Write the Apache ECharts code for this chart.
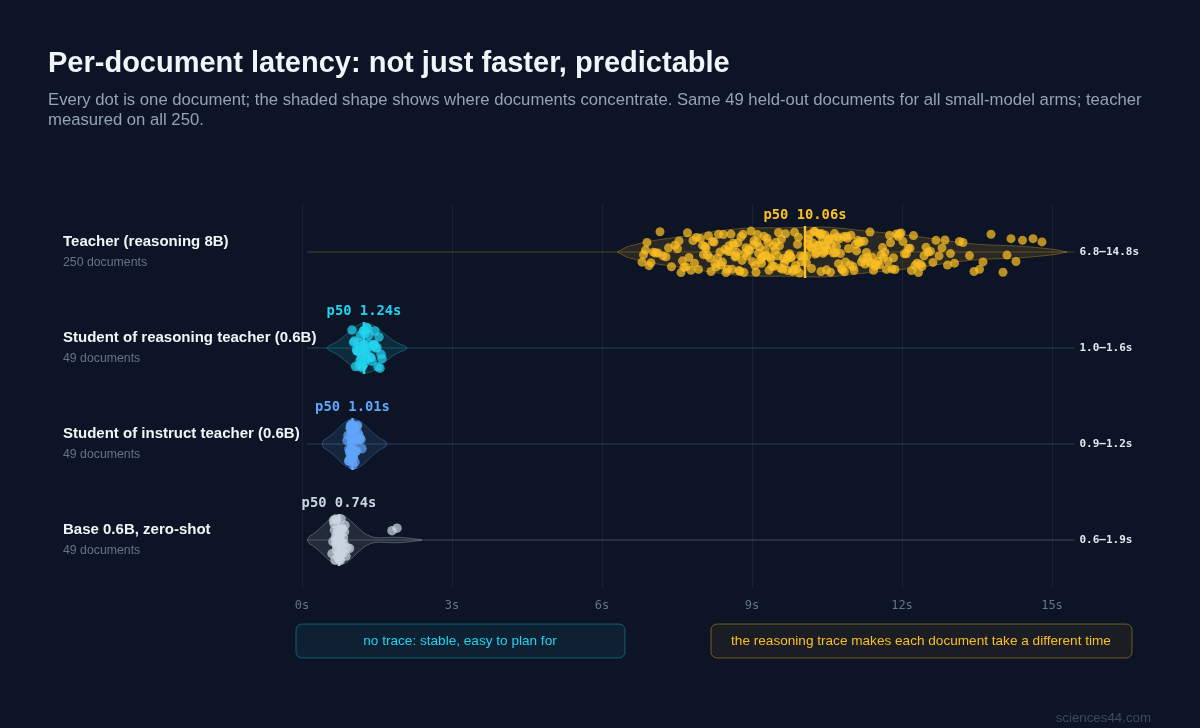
<!DOCTYPE html>
<html lang="en">
  <head>
    <meta charset="UTF-8" />
    <meta name="viewport" content="width=device-width, initial-scale=1.0" />
    <title>Per-document latency</title>
    <script src="https://cdn.jsdelivr.net/npm/echarts@6/dist/echarts.min.js"></script>
    <style>
      html, body { margin: 0; background: #0c1425; }
    </style>
  </head>

  <body>
    <div id="main" style="width: 1200px; height: 728px"></div>

    <script type="text/javascript">
      // rows, top to bottom
      const rowNames = [
        "Teacher (reasoning 8B)",
        "Student of reasoning teacher (0.6B)",
        "Student of instruct teacher (0.6B)",
        "Base 0.6B, zero-shot",
      ];
      const rowDocs = [250, 49, 49, 49];
      const rowColors = ["#fbbf24", "#22d3ee", "#60a5fa", "#cbd5e1"];
      const medians = [10.06, 1.24, 1.01, 0.74];
      const bandwidths = [0.4, 0.25, 0.25, 0.25];
      const xTicks = [0, 3, 6, 9, 12, 15];

      // seconds per document
      const teacher = [
        6.80, 6.83, 6.87, 6.90, 6.94, 6.98,
        7.03, 7.07, 7.12, 7.16, 7.22, 7.28, 7.33, 7.39, 7.46,
        7.51, 7.54, 7.58, 7.61, 7.64, 7.68, 7.71, 7.74, 7.78, 7.82, 7.85, 7.89, 7.93, 7.97,
        8.01, 8.03, 8.06, 8.08, 8.11, 8.13, 8.16, 8.18, 8.21, 8.24, 8.26, 8.28, 8.31, 8.33, 8.36, 8.38, 8.41, 8.43, 8.46, 8.48,
        8.51, 8.52, 8.54, 8.56, 8.58, 8.60, 8.62, 8.64, 8.66, 8.68, 8.70, 8.72, 8.74, 8.76, 8.78, 8.80, 8.82, 8.84, 8.86, 8.88, 8.90, 8.93, 8.95, 8.98,
        9.01, 9.03, 9.04, 9.06, 9.08, 9.10, 9.11, 9.13, 9.15, 9.17, 9.19, 9.20, 9.22, 9.24, 9.26, 9.28, 9.30, 9.32, 9.34, 9.36, 9.38, 9.40, 9.42, 9.44, 9.46, 9.48,
        9.51, 9.53, 9.55, 9.57, 9.59, 9.61, 9.63, 9.65, 9.67, 9.69, 9.71, 9.73, 9.75, 9.77, 9.79, 9.81, 9.83, 9.85, 9.87, 9.89, 9.91, 9.93, 9.95, 9.97, 9.99,
        10.03, 10.09, 10.10, 10.12, 10.13, 10.15, 10.17, 10.19, 10.20, 10.22, 10.24, 10.26, 10.27, 10.29, 10.31, 10.33, 10.34, 10.36, 10.38, 10.39, 10.41, 10.42, 10.44, 10.45, 10.46, 10.48, 10.49,
        10.51, 10.53, 10.55, 10.57, 10.59, 10.61, 10.63, 10.65, 10.67, 10.69, 10.71, 10.73, 10.75, 10.77, 10.79, 10.81, 10.83, 10.85, 10.87, 10.89, 10.91, 10.93, 10.96, 10.98,
        11.02, 11.04, 11.07, 11.09, 11.12, 11.14, 11.17, 11.19, 11.22, 11.24, 11.26, 11.29, 11.31, 11.34, 11.36, 11.39, 11.41, 11.43, 11.46, 11.48,
        11.52, 11.55, 11.58, 11.61, 11.63, 11.66, 11.69, 11.72, 11.75, 11.77, 11.80, 11.83, 11.86, 11.89, 11.92, 11.95, 11.98,
        12.02, 12.05, 12.09, 12.12, 12.16, 12.19, 12.23, 12.26, 12.30, 12.33, 12.37, 12.40, 12.44, 12.48,
        12.52, 12.57, 12.62, 12.68, 12.74, 12.80, 12.86, 12.91, 12.97,
        13.05, 13.15, 13.22, 13.35, 13.44,
        13.55, 13.62, 13.78,
        14.02, 14.10, 14.18, 14.28, 14.41,
        14.62, 14.80,
      ];
      const studentReasoning = [
        1.00, 1.03, 1.05, 1.07, 1.09, 1.10, 1.11, 1.12, 1.13, 1.14,
        1.15, 1.16, 1.17, 1.18, 1.19, 1.20, 1.20, 1.21, 1.22, 1.22,
        1.23, 1.23, 1.24, 1.24, 1.24, 1.25, 1.26, 1.27, 1.28, 1.29,
        1.30, 1.31, 1.33, 1.34, 1.36, 1.38, 1.40, 1.41, 1.42, 1.44,
        1.45, 1.46, 1.48, 1.50, 1.52, 1.54, 1.56, 1.58, 1.60,
      ];
      const studentInstruct = [
        0.90, 0.92, 0.93, 0.94, 0.95, 0.95, 0.96, 0.96, 0.97, 0.97,
        0.97, 0.98, 0.98, 0.98, 0.99, 0.99, 0.99, 1.00, 1.00, 1.00,
        1.00, 1.01, 1.01, 1.01, 1.01, 1.02, 1.02, 1.02, 1.03, 1.03,
        1.03, 1.04, 1.04, 1.05, 1.05, 1.06, 1.06, 1.07, 1.07, 1.08,
        1.09, 1.10, 1.11, 1.12, 1.13, 1.14, 1.16, 1.18, 1.20,
      ];
      const baseModel = [
        0.60, 0.62, 0.63, 0.64, 0.65, 0.66, 0.67, 0.67, 0.68, 0.68,
        0.69, 0.69, 0.70, 0.70, 0.71, 0.71, 0.72, 0.72, 0.72, 0.73,
        0.73, 0.73, 0.74, 0.74, 0.74, 0.75, 0.75, 0.75, 0.76, 0.76,
        0.77, 0.77, 0.78, 0.78, 0.79, 0.79, 0.80, 0.80, 0.81, 0.82,
        0.83, 0.84, 0.85, 0.86, 0.88, 0.90, 0.95, 1.80, 1.90,
      ];
      const rowValues = [teacher, studentReasoning, studentInstruct, baseModel];

      const MONO = '"DejaVu Sans Mono", monospace';
      const SANS = '"Liberation Sans", Arial, sans-serif';

      function rgba(hex, a) {
        const n = parseInt(hex.slice(1), 16);
        return `rgba(${(n >> 16) & 255},${(n >> 8) & 255},${n & 255},${a})`;
      }

      // deterministic vertical jitter for the dots
      function jitter(i, r) {
        const s = Math.sin((i + 1) * 12.9898 + (r + 1) * 78.233) * 43758.5453;
        return (s - Math.floor(s)) * 2 - 1;
      }

      function violinItem(params, api) {
        const r = params.dataIndex;
        const vals = rowValues[r];
        const color = rowColors[r];
        const bw = bandwidths[r];
        const vmin = Math.min(...vals);
        const vmax = Math.max(...vals);
        const lo = vmin - 0.5;
        const hi = vmax + 0.5;
        const N = 40;
        const xs = [];
        const ds = [];
        for (let k = 0; k <= N; k++) {
          const x = lo + ((hi - lo) * k) / N;
          let d = 0;
          if (k > 0 && k < N) {
            vals.forEach((v) => {
              const z = (x - v) / bw;
              d += Math.exp(-0.5 * z * z);
            });
          }
          xs.push(x);
          ds.push(d);
        }
        const dmax = Math.max(...ds);
        const cy = api.coord([0, r])[1];
        const top = [];
        const bot = [];
        xs.forEach((x, k) => {
          const px = api.coord([x, r])[0];
          const h = 25 * Math.pow(ds[k] / dmax, 0.7);
          top.push([px, cy - h]);
          bot.unshift([px, cy + h]);
        });
        const a = api.coord([0.1, r]);
        const b = api.coord([15.45, r]);
        return {
          type: "group",
          children: [
            {
              type: "line",
              shape: { x1: a[0], y1: cy, x2: b[0], y2: cy },
              style: { stroke: rgba(color, 0.28), lineWidth: 1 },
            },
            {
              type: "polygon",
              shape: { points: top.concat(bot) },
              style: { fill: rgba(color, 0.12), stroke: rgba(color, 0.3), lineWidth: 1 },
            },
            {
              type: "text",
              x: b[0] + 5,
              y: cy,
              style: {
                text: `${vmin.toFixed(1)}–${vmax.toFixed(1)}s`,
                fill: "#e2e8f0",
                font: `bold 11px ${MONO}`,
                verticalAlign: "middle",
              },
            },
          ],
        };
      }

      function medianItem(params, api) {
        const r = params.dataIndex;
        const p = api.coord([api.value(0), r]);
        const color = rowColors[r];
        return {
          type: "group",
          children: [
            {
              type: "line",
              shape: { x1: p[0], y1: p[1] - 26, x2: p[0], y2: p[1] + 26 },
              style: { stroke: color, lineWidth: 2.5 },
            },
            {
              type: "text",
              x: p[0],
              y: p[1] - 37,
              style: {
                text: `p50 ${medians[r].toFixed(2)}s`,
                fill: color,
                font: `bold 13.8px ${MONO}`,
                align: "center",
                verticalAlign: "middle",
              },
            },
          ],
        };
      }

      let myChart = echarts.init(document.getElementById("main"));

      const dotSeries = rowValues.map((vals, r) => ({
        type: "scatter",
        xAxisIndex: 0,
        yAxisIndex: 1,
        symbolSize: r === 0 ? 9 : 9.5,
        itemStyle: { color: rowColors[r], opacity: 0.72 },
        z: 3,
        data: vals.map((v, i) => [v, r + 0.22 * jitter(i, r)]),
      }));

      let options = {
        backgroundColor: "#0c1425",
        animation: false,
        title: {
          left: 43,
          top: 44,
          text: "Per-document latency: not just faster, predictable",
          subtext:
            "Every dot is one document; the shaded shape shows where documents concentrate. Same 49 held-out documents for all small-model arms; teacher\nmeasured on all 250.",
          itemGap: 12,
          textStyle: { color: "#f1f5f9", fontSize: 29, fontWeight: "bold", fontFamily: SANS },
          subtextStyle: { color: "#94a3b8", fontSize: 16.7, lineHeight: 20, fontFamily: SANS },
        },
        grid: { left: 302, right: 148, top: 204, bottom: 140 },
        xAxis: {
          type: "value",
          min: xTicks[0],
          max: xTicks[xTicks.length - 1],
          interval: 3,
          axisLine: { show: false },
          axisTick: { show: false },
          axisLabel: { formatter: "{value}s", color: "#64748b", fontFamily: MONO, fontSize: 12, margin: 12 },
          splitLine: { lineStyle: { color: "rgba(148,163,184,0.1)" } },
        },
        yAxis: [
          {
            type: "category",
            data: rowNames,
            inverse: true,
            axisLine: { show: false },
            axisTick: { show: false },
            splitLine: { show: false },
            axisLabel: {
              align: "left",
              margin: 239,
              formatter: (v, i) => `{n|${v}}\n{d|${rowDocs[i]} documents}`,
              rich: {
                n: { color: "#f1f5f9", fontSize: 15, fontWeight: "bold", fontFamily: SANS, lineHeight: 21, align: "left" },
                d: { color: "#64748b", fontSize: 12.3, fontFamily: SANS, lineHeight: 20, align: "left" },
              },
            },
          },
          { type: "value", show: false, min: -0.5, max: 3.5, inverse: true, splitLine: { show: false } },
        ],
        graphic: [
          {
            type: "rect",
            shape: { x: 296, y: 624, width: 329, height: 34, r: 6 },
            style: { fill: "rgba(34,211,238,0.07)", stroke: "rgba(34,211,238,0.35)", lineWidth: 1 },
          },
          {
            type: "text",
            x: 460,
            y: 641,
            style: {
              text: "no trace: stable, easy to plan for",
              fill: "#22d3ee",
              font: `13.6px ${SANS}`,
              align: "center",
              verticalAlign: "middle",
            },
          },
          {
            type: "rect",
            shape: { x: 711, y: 624, width: 421, height: 34, r: 6 },
            style: { fill: "rgba(251,191,36,0.06)", stroke: "rgba(251,191,36,0.4)", lineWidth: 1 },
          },
          {
            type: "text",
            x: 921,
            y: 641,
            style: {
              text: "the reasoning trace makes each document take a different time",
              fill: "#fbbf24",
              font: `13.6px ${SANS}`,
              align: "center",
              verticalAlign: "middle",
            },
          },
          {
            type: "text",
            right: 49,
            top: 712,
            style: { text: "sciences44.com", fill: "#3e4a5e", font: `13.3px ${SANS}` },
          },
        ],
        series: [
          {
            type: "custom",
            xAxisIndex: 0,
            yAxisIndex: 1,
            renderItem: violinItem,
            clip: false,
            z: 1,
            data: rowNames.map((_, r) => [0, r]),
          },
          ...dotSeries,
          {
            type: "custom",
            xAxisIndex: 0,
            yAxisIndex: 1,
            renderItem: medianItem,
            clip: false,
            z: 5,
            data: medians.map((m, r) => [m, r]),
          },
        ],
      };

      myChart.setOption(options);
    </script>
  </body>
</html>
